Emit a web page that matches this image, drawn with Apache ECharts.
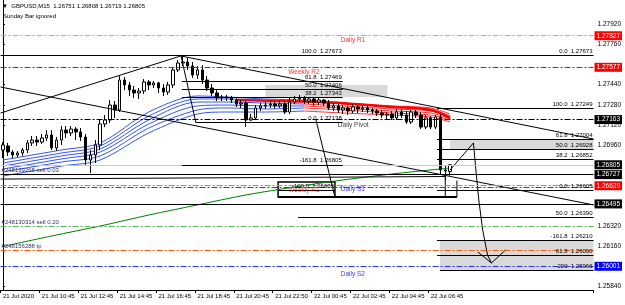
<!DOCTYPE html>
<html><head><meta charset="utf-8">
<script src="https://cdn.jsdelivr.net/npm/echarts@6/dist/echarts.min.js"></script>
<style>html,body{margin:0;padding:0;background:#fff}#c{width:625px;height:305px}</style>
</head><body><div id="c"></div>
<script>
const FONT = '"Liberation Sans", Arial, sans-serif';
const symbolName = 'GBPUSD,M15';
const nCategories = 122;
const timeLabels = {0:'21 Jul 2020',8:'21 Jul 10:45',16:'21 Jul 12:45',24:'21 Jul 14:45',32:'21 Jul 16:45',40:'21 Jul 18:45',48:'21 Jul 20:45',56:'21 Jul 22:50',64:'22 Jul 00:45',72:'22 Jul 02:45',80:'22 Jul 04:45',88:'22 Jul 06:45'};
// [open, close, low, high]
const candles = [
[1.26922,1.26962,1.26859,1.26985],[1.26954,1.26906,1.26875,1.26978],[1.26906,1.26882,1.26859,1.26922],[1.26882,1.26898,1.26867,1.26914],
[1.26898,1.26922,1.26875,1.26938],[1.26922,1.26978,1.26898,1.27001],[1.26978,1.27001,1.26954,1.27033],[1.27001,1.26985,1.26954,1.27033],
[1.26985,1.27017,1.26970,1.27049],[1.27017,1.27041,1.26993,1.27080],[1.27041,1.26938,1.26922,1.27080],[1.26938,1.27001,1.26914,1.27025],
[1.27001,1.27080,1.26962,1.27112],[1.27080,1.27057,1.27017,1.27112],[1.27057,1.27088,1.27033,1.27112],[1.27088,1.27065,1.27001,1.27104],
[1.27065,1.27025,1.26993,1.27096],[1.27025,1.26843,1.26803,1.27049],[1.26843,1.26882,1.26740,1.26922],[1.26882,1.26962,1.26819,1.27001],
[1.26962,1.27128,1.26922,1.27160],[1.27128,1.27160,1.27104,1.27199],[1.27160,1.27278,1.27136,1.27318],[1.27278,1.27239,1.27176,1.27310],
[1.27239,1.27476,1.27223,1.27508],[1.27476,1.27437,1.27397,1.27500],[1.27437,1.27397,1.27350,1.27461],[1.27397,1.27374,1.27334,1.27429],
[1.27374,1.27389,1.27326,1.27413],[1.27389,1.27461,1.27366,1.27484],[1.27461,1.27437,1.27397,1.27476],[1.27437,1.27453,1.27413,1.27469],
[1.27453,1.27413,1.27374,1.27461],[1.27413,1.27381,1.27350,1.27445],[1.27381,1.27437,1.27358,1.27461],[1.27437,1.27556,1.27413,1.27579],
[1.27556,1.27611,1.27540,1.27635],[1.27611,1.27619,1.27587,1.27675],[1.27619,1.27587,1.27556,1.27651],[1.27587,1.27516,1.27492,1.27619],
[1.27516,1.27556,1.27484,1.27587],[1.27556,1.27476,1.27445,1.27595],[1.27476,1.27413,1.27389,1.27508],[1.27413,1.27374,1.27350,1.27445],
[1.27374,1.27334,1.27310,1.27397],[1.27334,1.27342,1.27310,1.27358],[1.27342,1.27334,1.27310,1.27358],[1.27334,1.27318,1.27294,1.27350],
[1.27318,1.27286,1.27263,1.27334],[1.27286,1.27294,1.27255,1.27318],[1.27294,1.27160,1.27104,1.27310],[1.27160,1.27176,1.27152,1.27207],
[1.27176,1.27255,1.27160,1.27278],[1.27255,1.27271,1.27231,1.27294],[1.27271,1.27278,1.27247,1.27302],[1.27278,1.27286,1.27255,1.27310],
[1.27286,1.27271,1.27247,1.27310],[1.27271,1.27286,1.27255,1.27318],[1.27286,1.27223,1.27207,1.27302],[1.27223,1.27302,1.27207,1.27334],
[1.27302,1.27326,1.27286,1.27350],[1.27326,1.27334,1.27302,1.27358],[1.27334,1.27310,1.27286,1.27350],[1.27310,1.27326,1.27286,1.27342],
[1.27326,1.27302,1.27271,1.27342],[1.27302,1.27318,1.27278,1.27334],[1.27318,1.27294,1.27271,1.27326],[1.27294,1.27255,1.27239,1.27318],
[1.27255,1.27271,1.27231,1.27294],[1.27271,1.27239,1.27215,1.27286],[1.27239,1.27255,1.27207,1.27278],[1.27255,1.27231,1.27199,1.27271],
[1.27231,1.27263,1.27215,1.27286],[1.27263,1.27247,1.27215,1.27278],[1.27247,1.27255,1.27223,1.27271],[1.27255,1.27239,1.27215,1.27271],
[1.27239,1.27231,1.27207,1.27255],[1.27231,1.27215,1.27191,1.27247],[1.27215,1.27199,1.27176,1.27239],[1.27199,1.27207,1.27168,1.27223],
[1.27207,1.27176,1.27160,1.27231],[1.27176,1.27223,1.27160,1.27247],[1.27223,1.27199,1.27176,1.27247],[1.27199,1.27144,1.27128,1.27231],
[1.27144,1.27223,1.27128,1.27239],[1.27223,1.27199,1.27176,1.27239],[1.27199,1.27104,1.27088,1.27223],[1.27104,1.27176,1.27088,1.27199],
[1.27176,1.27104,1.27088,1.27191],[1.27104,1.27183,1.27088,1.27199],[1.27183,1.26764,1.26724,1.27207],[1.26764,1.26756,1.26684,1.26795],
[1.26751,1.26805,1.26719,1.26808]
];
// moving averages, read at selected bars
const maGreenIdx = [0,10,20,30,40,50,60,70,80,90,92];
const maGreen = [1.26158,1.26241,1.26320,1.26407,1.26487,1.26566,1.26629,1.26685,1.26732,1.26772,1.26780];
const ribbonIdx = [0,12,20,30,40,46,54,62,70,80,88,92];
const ribbon = [
[1.26843,1.26922,1.26978,1.27223,1.27350,1.27342,1.27326,1.27318,1.27294,1.27271,1.27255,1.27207],
[1.26819,1.26898,1.26954,1.27191,1.27326,1.27326,1.27310,1.27302,1.27286,1.27263,1.27247,1.27191],
[1.26795,1.26875,1.26930,1.27160,1.27302,1.27302,1.27294,1.27286,1.27271,1.27247,1.27231,1.27183],
[1.26772,1.26851,1.26906,1.27128,1.27271,1.27278,1.27271,1.27271,1.27255,1.27231,1.27215,1.27168],
[1.26748,1.26827,1.26875,1.27096,1.27239,1.27255,1.27247,1.27255,1.27239,1.27215,1.27199,1.27160],
[1.26716,1.26795,1.26843,1.27057,1.27207,1.27223,1.27223,1.27231,1.27215,1.27199,1.27183,1.27144]
];
const ribbonRedFrom = 62;
const maRedIdx = [48,57,66,80,88,92];
const maRed = [1.27318,1.27310,1.27302,1.27263,1.27239,1.27176];
// price axis
const priceTicks = [1.27920,1.27760,1.27440,1.27280,1.27120,1.26960,1.26320,1.26160,1.25840];
const priceTags = [[1.27827,'#ff0000'],[1.27577,'#ff0000'],[1.27163,'#000000'],[1.26805,'#000000'],[1.26727,'#000000'],[1.26639,'#ff0000'],[1.26495,'#000000'],[1.26001,'#0000ff']];
// horizontal objects: [price, fromBar, toBar, color, style, text, textPos]
const L = -0.5, R = 121.5;
const hLines = [
[1.27827,L,R,'#ff8c8c','dd','',''],
[1.27577,L,R,'#ff0000','dd','',''],
[1.27163,L,R,'#000000','dd','',''],
[1.26639,L,R,'#ff6060','dd','',''],
[1.26630,L,R,'#3030ff','dd2','',''],
[1.26001,L,R,'#3030ff','dd','',''],
[1.26320,L,R,'#5fb35f','dd','#248130314 sell 0.20','insideStartTop'],
[1.26125,L,R,'#ff5a00','dd','#248156288 tp','insideStartTop'],
[1.26805,L,R,'#c8c8c8','solid','',''],
[1.26727,L,R,'#000000','solid','#248139268 sell 0.03','insideStartTop'],
[1.26495,L,R,'#000000','solid','',''],
[1.27673,L,R,'#000000','solid','0.0  1.27673','insideEndTop'],
[1.27673,36.8,69.9,'#000000','solid','100.0  1.27673','insideEndTop'],
[1.27469,36.8,69.9,'#000000','solid','61.8  1.27469','insideEndTop'],
[1.27406,36.8,69.9,'#000000','solid','50.0  1.27406','insideEndTop'],
[1.27343,36.8,69.9,'#000000','solid','38.2  1.27343','insideEndTop'],
[1.27138,39.7,69.9,'#000000','solid','0.0  1.27138','insideEndTop'],
[1.26805,36.8,69.9,'#000000','solid','-161.8  1.26805','insideEndTop'],
[1.26605,56.6,68.3,'#000000','solid','-100.0  1.26605','insideEndTop'],
[1.27249,89.3,R,'#000000','solid','100.0  1.27249','insideEndTop'],
[1.27004,89.3,R,'#000000','solid','61.8  1.27004','insideEndTop'],
[1.26928,89.3,R,'#000000','solid','50.0  1.26928','insideEndTop'],
[1.26852,89.3,R,'#000000','solid','38.2  1.26852','insideEndTop'],
[1.26605,89.3,R,'#000000','solid','0.0  1.26605','insideEndTop'],
[1.26390,60.7,R,'#000000','solid','50.0  1.26390','insideEndTop'],
[1.26210,89.3,R,'#000000','solid','-161.8  1.26210','insideEndTop'],
[1.26090,89.3,R,'#000000','solid','61.8  1.26090','insideEndTop'],
[1.25966,89.9,R,'#000000','solid','-200  1.25966','insideEndTop'],
[1.26550,56.6,93.4,'#000000','bold','','']
];
// trend lines / drawings: list of [bar, price] points
const drawings = [
[[L,1.27215],[36.6,1.27667]],
[[L,1.27421],[R,1.26487]],
[[36.6,1.27667],[R,1.27009]],
[[36.6,1.27673],[39.7,1.27138]],
[[64.4,1.27160],[68.3,1.26550]],
[[L,1.26692],[91,1.26712]],
[[91,1.26727],[91,1.26550]],
[[93.4,1.26680],[93.4,1.26550]],
[[92,1.26764],[96.8,1.26978],[97.3,1.26764],[97.9,1.26526],[98.7,1.26288],[99.7,1.26090],[100.5,1.26027]],
[[97.7,1.26114],[100.5,1.26027],[103.4,1.26130]]
];
// rectangles: [bar1, price1, bar2, price2, fill]
const rects = [
[54,1.27437,79.1,1.27342,'#d9d9d9'],
[92,1.27004,R,1.26928,'#d9d9d9'],
[89.9,1.26210,R,1.25966,'#d9d9d9']
];
const boxes = [[56.6,1.26669,68.3,1.26550]];
// text labels: [bar, price, text, color]
const texts = [
[69.5,1.27793,'Daily R1','#ff0000'],
[58.7,1.27540,'Weekly R2','#ff0000'],
[68.9,1.27120,'Daily Pivot','#000000'],
[58.7,1.26605,'Weekly R1','#ff0000'],
[69.5,1.26613,'Daily S1','#0000ff'],
[69.5,1.25940,'Daily S2','#0000ff']
];

const pxPerPrice = 12626;
const yMax = 1.27920 + 24/pxPerPrice;
const yMin = yMax - 290/pxPerPrice;

const cats = Array.from({length:nCategories},(_,i)=>timeLabels[i]||'');
const dashes = {dd:[6,2,2,2], dd2:[6,2,2,2], solid:'solid', bold:'solid'};

const markLines = hLines.map(h=>[
  {coord:[h[1],h[0]],
   lineStyle:{color:h[3],type:dashes[h[4]],dashOffset:h[4]==='dd2'?5:0,width:h[4]==='bold'?2:1,opacity:1},
   label:h[5]?{show:true,formatter:h[5],position:h[6],distance:1,padding:0,color:h[6]==='insideStartTop'?'#333366':'#000',fontSize:6,fontFamily:FONT}:{show:false}},
  {coord:[h[2],h[0]]}
]);
const lineData = drawings.map(d=>({coords:d}));

const ribbonSeries = [];
ribbon.forEach(r=>{
  const blue=[], red=[];
  ribbonIdx.forEach((ix,k)=>{ if(ix<=ribbonRedFrom) blue.push([ix,r[k]]); if(ix>=ribbonRedFrom) red.push([ix,r[k]]); });
  ribbonSeries.push({type:'line',xAxisIndex:1,data:blue,showSymbol:false,smooth:0.3,lineStyle:{color:'#3355ee',width:1},z:2,silent:true});
  ribbonSeries.push({type:'line',xAxisIndex:1,data:red,showSymbol:false,smooth:0.3,lineStyle:{color:'#ff3030',width:1},z:2,silent:true});
});

const last = candles[candles.length-1];
const header = '\u25BC  ' + symbolName + '  ' + [last[0],last[3],last[2],last[1]].map(v=>v.toFixed(5)).join(' ');

const chart = echarts.init(document.getElementById('c'),null,{renderer:'canvas'});
chart.setOption({
  animation:false,
  backgroundColor:'#ffffff',
  textStyle:{fontFamily:FONT},
  graphic:[
    {type:'text',left:2,top:3,style:{text:header,font:'6px '+FONT,fill:'#000'},z:100},
    {type:'text',left:3,top:13,style:{text:'Sunday Bar ignored',font:'6px '+FONT,fill:'#000'},z:100}
  ],
  grid:{left:0,right:27,top:0,bottom:15,containLabel:false},
  xAxis:[
    {type:'category',data:cats,boundaryGap:true,
     axisLine:{lineStyle:{color:'#000',width:1}},
     axisTick:{show:true,length:3,lineStyle:{color:'#000'},interval:(i)=>!!timeLabels[i]},
     axisLabel:{interval:(i)=>!!timeLabels[i],align:'left',margin:3,fontSize:6,color:'#000',fontFamily:FONT},
     splitLine:{show:false}},
    {type:'value',min:L,max:R,show:false}
  ],
  yAxis:{type:'value',position:'right',min:yMin,max:yMax,scale:true,
    axisLine:{show:true,lineStyle:{color:'#000'}},
    axisTick:{show:true,length:2,lineStyle:{color:'#000'},customValues:priceTicks},
    splitLine:{show:false},
    axisLabel:{customValues:priceTicks.concat(priceTags.map(t=>t[0])),margin:1,fontSize:6.5,fontFamily:FONT,color:'#000',
      formatter:(v)=>{const t=priceTags.find(q=>Math.abs(q[0]-v)<1e-7); const s=v.toFixed(5);
        if(!t) return '{n|'+s+'}'; return '{'+(t[1]==='#ff0000'?'r':t[1]==='#0000ff'?'b':'k')+'|'+s+'}';},
      rich:{n:{padding:[0,0,0,3],fontSize:6.5,color:'#000'},
        r:{backgroundColor:'#ff0000',color:'#fff',padding:[1,2,1,2],fontSize:6.5},
        k:{backgroundColor:'#000',color:'#fff',padding:[1,2,1,2],fontSize:6.5},
        b:{backgroundColor:'#0000ff',color:'#fff',padding:[1,2,1,2],fontSize:6.5}}}
  },
  series:[
    {type:'line',xAxisIndex:1,data:[],silent:true,z:0,
     markArea:{silent:true,data:rects.map(r=>[{coord:[r[0],r[1]],itemStyle:{color:r[4]}},{coord:[r[2],r[3]]}])
       .concat(boxes.map(b=>[{coord:[b[0],b[1]],itemStyle:{color:'rgba(0,0,0,0)',borderColor:'#000',borderWidth:1.5}},{coord:[b[2],b[3]]}]))}},
    ...ribbonSeries,
    {type:'line',xAxisIndex:1,data:maGreenIdx.map((ix,k)=>[ix,maGreen[k]]),showSymbol:false,smooth:0.3,lineStyle:{color:'#008000',width:1},z:2,silent:true},
    {type:'line',xAxisIndex:1,data:maRedIdx.map((ix,k)=>[ix,maRed[k]]),showSymbol:false,smooth:0.3,lineStyle:{color:'#ff0000',width:2.5},z:2,silent:true},
    {type:'candlestick',xAxisIndex:0,data:candles,barWidth:3,z:3,silent:true,
     itemStyle:{color:'#ffffff',color0:'#000000',borderColor:'#000000',borderColor0:'#000000',borderWidth:1}},
    {type:'line',xAxisIndex:1,data:[],silent:true,z:4,
     markLine:{silent:true,symbol:['none','none'],animation:false,data:markLines}},
    {type:'lines',coordinateSystem:'cartesian2d',xAxisIndex:1,yAxisIndex:0,polyline:true,data:lineData,z:4,silent:true,
     lineStyle:{color:'#000',width:1,type:'solid',opacity:1}},
    {type:'scatter',xAxisIndex:1,symbolSize:0,z:5,silent:true,
     data:texts.map(t=>({value:[t[0],t[1]],label:{show:true,position:'right',distance:0,formatter:t[2],color:t[3],fontSize:6.5,fontFamily:FONT}}))}
  ]
});
</script></body></html>
